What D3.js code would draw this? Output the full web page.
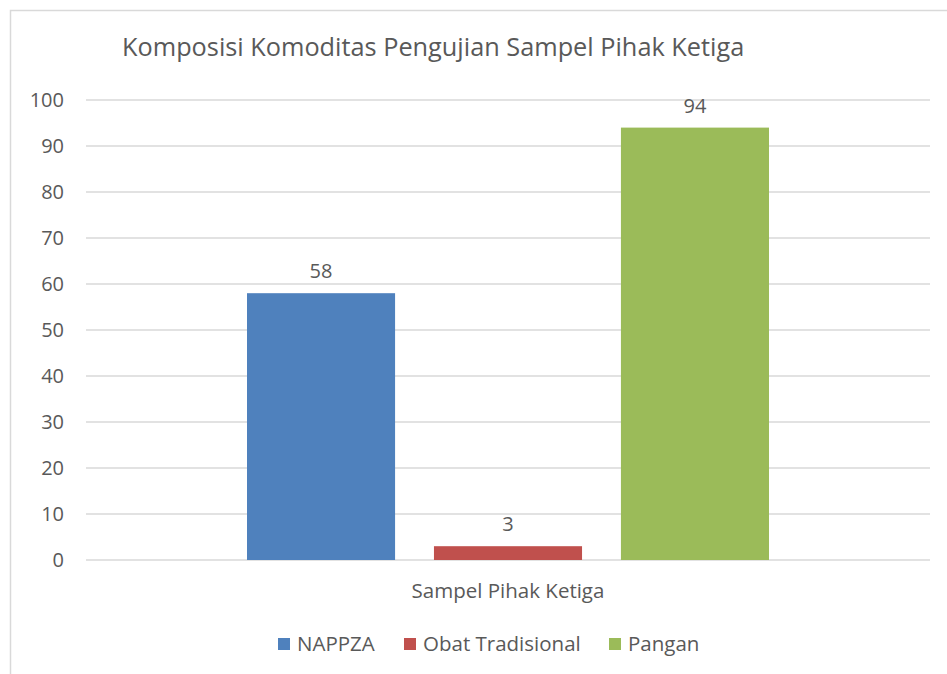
<!DOCTYPE html>
<html>
<head>
<meta charset="utf-8">
<script src="https://cdn.jsdelivr.net/npm/d3@7"></script>
<style>
body { margin:0; background:#fff; }
text { font-family: "Open Sans", sans-serif; fill:#595959; }
</style>
</head>
<body>
<div id="chart"></div>
<script>
// chart data
var categories = ["Sampel Pihak Ketiga"];
var seriesNames = ["NAPPZA", "Obat Tradisional", "Pangan"];
var seriesValues = [58, 3, 94];
var colors = ["#4F81BD", "#C0504D", "#9BBB59"];
var yTicks = [0,10,20,30,40,50,60,70,80,90,100];

var w=947, h=674;
var svg=d3.select('#chart').append("svg").attr("width", w).attr("height", h);

// outer chart border
svg.append("rect").attr("x",10.5).attr("y",10.5).attr("width",w).attr("height",h)
  .attr("fill","none").attr("stroke","#d9d9d9").attr("stroke-width",1.5);

var plotLeft=86, plotRight=930, plotTop=100, plotBottom=560;

var y=d3.scaleLinear().domain([0,100]).range([plotBottom,plotTop]);
var x0=d3.scaleBand().domain(categories).range([plotLeft,plotRight]);
var x1=d3.scaleBand().domain(seriesNames).range([x0(categories[0])+161, x0(categories[0])+x0.bandwidth()-161])
  .paddingInner(0.208);

svg.append("text").attr("x",122).attr("y",56).attr("font-size",25.3)
  .text("Komposisi Komoditas Pengujian Sampel Pihak Ketiga");

// gridlines
svg.selectAll(".grid").data(yTicks).enter().append("line")
  .attr("x1",plotLeft).attr("x2",plotRight)
  .attr("y1",function(d){return y(d);}).attr("y2",function(d){return y(d);})
  .attr("stroke","#d9d9d9").attr("stroke-width",1.5);

svg.selectAll(".ytick").data(yTicks).enter().append("text")
  .attr("x",64).attr("y",function(d){return y(d)+7;})
  .attr("text-anchor","end").attr("font-size",20).text(function(d){return d;});

var data=seriesNames.map(function(n,i){return {name:n, value:seriesValues[i], color:colors[i]};});

svg.selectAll(".bar").data(data).enter().append("rect")
  .attr("x",function(d){return x1(d.name);})
  .attr("width",x1.bandwidth())
  .attr("y",function(d){return y(d.value);})
  .attr("height",function(d){return plotBottom-y(d.value);})
  .attr("fill",function(d){return d.color;});

svg.selectAll(".lbl").data(data).enter().append("text")
  .attr("x",function(d){return x1(d.name)+x1.bandwidth()/2;})
  .attr("y",function(d){return y(d.value)-15;})
  .attr("text-anchor","middle").attr("font-size",20).text(function(d){return d.value;});

svg.selectAll(".cat").data(categories).enter().append("text")
  .attr("x",function(d){return x0(d)+x0.bandwidth()/2;})
  .attr("y",598).attr("text-anchor","middle").attr("font-size",20.5).text(function(d){return d;});

// legend
var legX=[278,404,609];
var leg=svg.selectAll(".leg").data(data).enter().append("g")
  .attr("transform",function(d,i){return "translate("+legX[i]+",638)";});
leg.append("rect").attr("width",12).attr("height",12).attr("fill",function(d){return d.color;});
leg.append("text").attr("x",19).attr("y",13).attr("font-size",20.5).text(function(d){return d.name;});
</script>
</body>
</html>
